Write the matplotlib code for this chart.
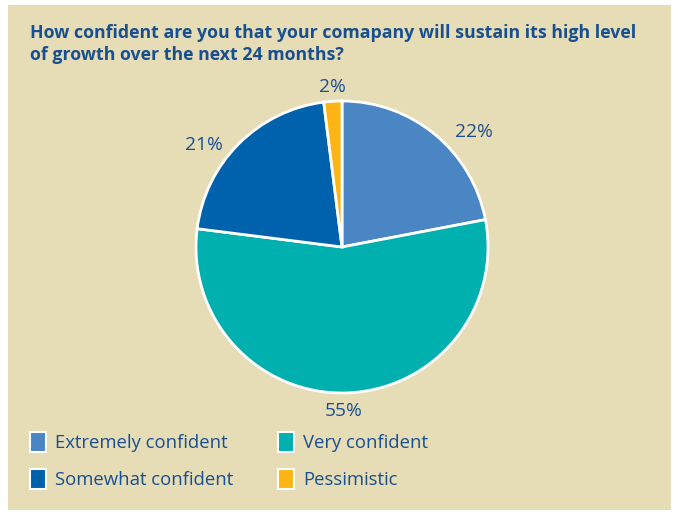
import matplotlib.pyplot as plt
from matplotlib.patches import Rectangle
import numpy as np

title = "How confident are you that your comapany will sustain its high level\nof growth over the next 24 months?"
categories = ["Extremely confident", "Very confident", "Somewhat confident", "Pessimistic"]
shares = [22, 55, 21, 2]
colors = ["#4a86c4", "#00b0ae", "#0061ac", "#fdb515"]

bg = "#e6ddb6"
txt = "#184f90"
W, H = 678, 515

plt.rcParams['font.family'] = ['Open Sans', 'DejaVu Sans']

fig = plt.figure(figsize=(W / 100, H / 100), dpi=100)
fig.patch.set_facecolor("white")
# beige panel
fig.add_artist(Rectangle((8 / W, 5 / H), 663 / W, 505 / H, transform=fig.transFigure,
                         facecolor=bg, edgecolor="none", zorder=0))

fig.text(30 / W, 1 - 24 / H, title, color=txt, fontsize=12.8, fontweight="bold",
         va="top", ha="left", linespacing=1.25)

# pie: centre (342, 247) px, radius 146 px
cx, cy, r = 342, 247, 146
ax = fig.add_axes([(cx - r) / W, 1 - (cy + r) / H, 2 * r / W, 2 * r / H])
wedges, _ = ax.pie(shares, colors=colors, startangle=90, counterclock=False,
                   wedgeprops=dict(edgecolor="white", linewidth=2))
ax.set_xlim(-1, 1)
ax.set_ylim(-1, 1)
ax.set_aspect("auto")
ax.axis("off")

# percentage labels, nudged off the wedge mid-angles
label_pos = [(1.20, 41), (1.12, -89.5), (1.18, 143.5), (1.10, 93.5)]
for v, (d, a) in zip(shares, label_pos):
    ax.text(d * np.cos(np.radians(a)), d * np.sin(np.radians(a)), f"{v}%",
            ha="center", va="center", color=txt, fontsize=13.8, clip_on=False)

# legend in two columns
leg_x = [30, 278]
leg_y = [442, 479]
for i, (name, c) in enumerate(zip(categories, colors)):
    x = leg_x[i % 2]
    y = leg_y[i // 2]
    fig.add_artist(Rectangle((x / W, 1 - (y + 10) / H), 16 / W, 20 / H,
                             transform=fig.transFigure, facecolor=c,
                             edgecolor="white", linewidth=1.5))
    fig.text((x + 25) / W, 1 - (y + 1) / H, name, color=txt, fontsize=13.3,
             va="center", ha="left")

fig.savefig("out.png", dpi=100, facecolor=fig.get_facecolor())
